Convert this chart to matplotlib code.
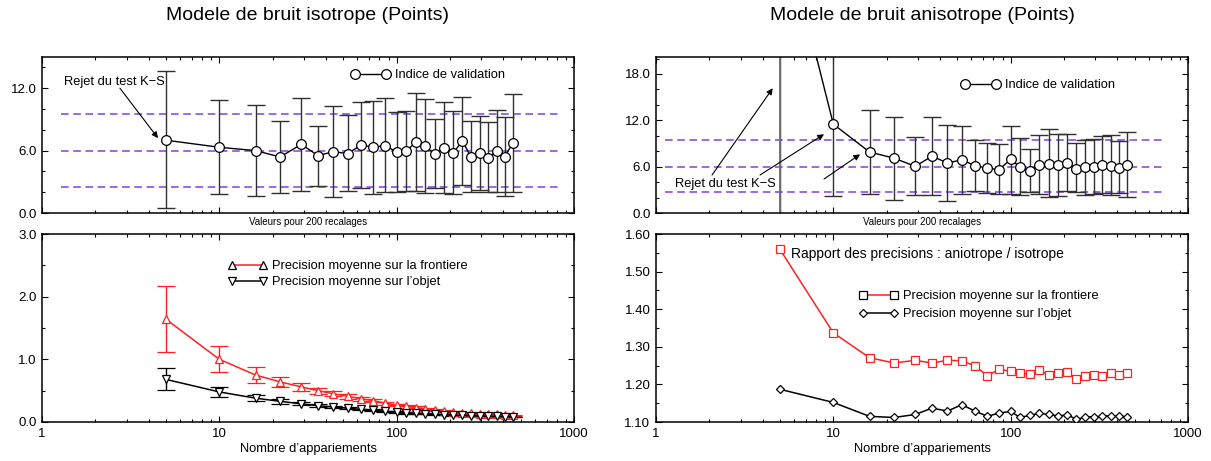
"""
Validation index and precision vs number of matches, isotropic / anisotropic noise.
"""
import matplotlib
matplotlib.use("Agg")
import matplotlib.pyplot as plt
from matplotlib.lines import Line2D
from matplotlib.ticker import (FixedLocator, FuncFormatter, FormatStrFormatter,
                               LogLocator, MultipleLocator, NullFormatter)

plt.rcParams['font.family'] = ['Liberation Sans', 'DejaVu Sans']

# number of matches (shared by every panel)
n_matches = [5, 10, 16, 22, 29, 36, 44, 53, 63, 74, 86, 100, 113, 129, 145,
             164, 186, 209, 235, 262, 294, 328, 368, 406, 453]

# isotropic noise: validation index with its spread
iso_index = [7.0, 6.32, 6.0, 5.39, 6.6, 5.52, 5.9, 5.71, 6.54, 6.32, 6.48, 5.87,
             5.94, 6.86, 6.42, 5.68, 6.26, 5.81, 6.93, 5.39, 5.78, 5.33, 5.94,
             5.43, 6.73]
iso_low = [0.45, 1.79, 1.63, 1.95, 2.14, 2.62, 1.53, 2.07, 2.39, 1.82, 2.01, 2.04,
           2.14, 2.14, 1.95, 2.43, 1.88, 1.82, 2.68, 2.04, 2.2, 1.98, 1.98, 1.66,
           2.04]
iso_high = [13.63, 10.82, 10.4, 8.81, 11.08, 8.39, 10.28, 9.45, 10.72, 10.79, 11.01,
            9.73, 9.8, 11.55, 10.92, 9.03, 10.63, 9.8, 11.2, 8.81, 9.32, 8.71, 9.89,
            9.22, 11.46]
iso_levels = [2.46, 6.0, 9.48]

# isotropic noise: mean precision on the boundary / on the object
iso_front = [1.64, 1.0, 0.75, 0.64, 0.56, 0.50, 0.45, 0.41, 0.37, 0.34, 0.30, 0.27,
             0.25, 0.23, 0.21, 0.19, 0.18, 0.16, 0.15, 0.14, 0.13, 0.125, 0.12,
             0.115, 0.11]
iso_front_err = [0.53, 0.205, 0.12, 0.085, 0.06, 0.05, 0.04, 0.035, 0.03, 0.028,
                 0.025, 0.022, 0.02, 0.018, 0.017, 0.015, 0.014, 0.013, 0.012,
                 0.011, 0.01, 0.01, 0.009, 0.009, 0.008]
iso_obj = [0.68, 0.48, 0.38, 0.33, 0.29, 0.26, 0.24, 0.22, 0.20, 0.19, 0.17, 0.16,
           0.145, 0.14, 0.13, 0.12, 0.115, 0.11, 0.105, 0.10, 0.095, 0.09, 0.088,
           0.085, 0.08]
iso_obj_err = [0.175, 0.075, 0.045, 0.035, 0.025, 0.02, 0.018, 0.016, 0.014, 0.013,
               0.012, 0.011, 0.01, 0.01, 0.009, 0.009, 0.008, 0.008, 0.007, 0.007,
               0.007, 0.006, 0.006, 0.006, 0.005]

# anisotropic noise: validation index with its spread
ani_index = [39.0, 11.5, 7.9, 7.1, 6.04, 7.36, 6.47, 6.89, 6.13, 5.79, 5.62, 6.94,
             5.96, 5.4, 6.26, 6.38, 6.17, 6.51, 5.74, 5.91, 6.0, 6.26, 6.13, 5.83,
             6.21]
ani_low = [-1.0, 2.2, 2.46, 1.7, 2.3, 2.3, 1.49, 2.47, 2.85, 2.55, 2.43, 2.47, 2.3,
           2.68, 2.47, 2.04, 2.26, 2.85, 2.72, 2.34, 2.47, 2.55, 2.38, 2.64, 2.13]
ani_high = [80.0, 30.0, 13.3, 12.45, 9.79, 12.43, 11.4, 11.28, 9.45, 9.1, 8.94, 11.28,
            9.66, 8.3, 10.09, 10.85, 10.21, 10.17, 9.02, 9.45, 9.53, 10.0, 10.04,
            9.28, 10.43]
ani_levels = [2.76, 6.0, 9.45]

# ratio of precisions anisotropic / isotropic
ratio_front = [1.559, 1.337, 1.271, 1.257, 1.264, 1.257, 1.264, 1.263, 1.249, 1.223,
               1.240, 1.235, 1.230, 1.227, 1.237, 1.226, 1.230, 1.234, 1.214, 1.223,
               1.225, 1.222, 1.230, 1.226, 1.229]
ratio_obj = [1.187, 1.152, 1.115, 1.112, 1.120, 1.137, 1.129, 1.146, 1.129, 1.115,
             1.124, 1.128, 1.112, 1.118, 1.123, 1.120, 1.116, 1.119, 1.107, 1.113,
             1.114, 1.115, 1.117, 1.115, 1.114]

RED = '#ff2020'
PURPLE = '#8040e0'
FS_TICK = 9.5
FS_LEG = 9.3

fig = plt.figure(figsize=(12.11, 4.61), dpi=100)
W, H = 1211.0, 461.0


def axes_px(x0, y0, x1, y1):
    return fig.add_axes([x0 / W, 1 - y1 / H, (x1 - x0) / W, (y1 - y0) / H])


ax_tl = axes_px(42, 57, 574, 213)
ax_bl = axes_px(42, 234, 574, 422)
ax_tr = axes_px(656, 57, 1188, 213)
ax_br = axes_px(656, 234, 1188, 422)


def style_axis(ax, show_xlabels):
    ax.set_xscale('log')
    ax.set_xlim(1, 1000)
    ax.xaxis.set_major_locator(FixedLocator([1, 10, 100, 1000]))
    ax.xaxis.set_minor_locator(LogLocator(base=10, subs=range(2, 10)))
    ax.xaxis.set_minor_formatter(NullFormatter())
    if show_xlabels:
        ax.xaxis.set_major_formatter(FuncFormatter(lambda v, p: f'{v:g}'))
    else:
        ax.xaxis.set_major_formatter(NullFormatter())
    ax.tick_params(which='both', direction='in', top=True, right=True,
                   labelsize=FS_TICK, width=0.8, pad=4)
    ax.tick_params(which='major', length=4)
    ax.tick_params(which='minor', length=2.5)
    for sp in ax.spines.values():
        sp.set_linewidth(1.1)


def validation_panel(ax, index, low, high, levels, xspan, ymax, leg_pos):
    style_axis(ax, False)
    ax.set_ylim(0, ymax)
    ax.yaxis.set_major_locator(MultipleLocator(6))
    ax.yaxis.set_minor_locator(MultipleLocator(2))
    ax.yaxis.set_major_formatter(FormatStrFormatter('%.1f'))
    ax.hlines(levels, xspan[0], xspan[1], colors=PURPLE, linestyles=(0, (5, 3)),
              lw=1.1, zorder=1)
    yerr = [[v - l for v, l in zip(index, low)], [h - v for v, h in zip(index, high)]]
    ax.errorbar(n_matches, index, yerr=yerr, fmt='none', ecolor='#303030',
                elinewidth=1.0, capsize=6.5, capthick=1.0, zorder=2)
    ax.plot(n_matches, index, color='black', lw=1.0, marker='o', ms=7,
            mfc='white', mec='black', mew=0.9, zorder=3)
    handle = Line2D([], [], color='black', lw=1.0, marker='o', ms=7,
                    mfc='white', mec='black', mew=0.9)
    ax.legend([handle], ['Indice de validation'], loc='center left',
              bbox_to_anchor=leg_pos, frameon=False, numpoints=2, handlelength=3.0,
              handletextpad=0.4, borderpad=0, borderaxespad=0, fontsize=FS_LEG)
    ax.text(0.5, -0.058, 'Valeurs pour 200 recalages', transform=ax.transAxes,
            ha='center', va='center', fontsize=7)


# --- top left: isotropic validation index
validation_panel(ax_tl, iso_index, iso_low, iso_high, iso_levels, (1.28, 846),
                 15, (0.581, 0.882))
ax_tl.text(1.33, 12.6, 'Rejet du test K\u2212S', fontsize=FS_LEG, ha='left',
           va='center')
ax_tl.annotate('', xy=(4.51, 7.2), xytext=(2.75, 12.0),
               arrowprops=dict(arrowstyle='-|>', color='black', lw=0.8,
                               shrinkA=0, shrinkB=0, mutation_scale=9))

# --- top right: anisotropic validation index
validation_panel(ax_tr, ani_index, ani_low, ani_high, ani_levels, (1.13, 748),
                 20.2, (0.574, 0.818))
# the first error bar is drawn lighter in the reference
ax_tr.errorbar(n_matches[:1], ani_index[:1],
               yerr=[[ani_index[0] - ani_low[0]], [ani_high[0] - ani_index[0]]],
               fmt='none', ecolor='#707070', elinewidth=1.3, capsize=0, zorder=2.5)
ax_tr.yaxis.set_major_locator(FixedLocator([0, 6, 12, 18]))
ax_tr.text(1.28, 3.75, 'Rejet du test K\u2212S', fontsize=FS_LEG, ha='left',
           va='center')
for tail, head in [((2.07, 4.92), (4.55, 16.15)),
                   ((3.86, 4.92), (8.86, 10.2)),
                   ((8.86, 4.4), (14.15, 7.6))]:
    ax_tr.annotate('', xy=head, xytext=tail,
                   arrowprops=dict(arrowstyle='-|>', color='black', lw=0.8,
                                   shrinkA=0, shrinkB=0, mutation_scale=9))

# --- bottom left: mean precisions, isotropic noise
style_axis(ax_bl, True)
ax_bl.set_ylim(0, 3.0)
ax_bl.yaxis.set_major_locator(MultipleLocator(1.0))
ax_bl.yaxis.set_minor_locator(MultipleLocator(0.5))
ax_bl.yaxis.set_major_formatter(FormatStrFormatter('%.1f'))
ax_bl.errorbar(n_matches, iso_front, yerr=iso_front_err, color=RED, lw=1.1,
               marker='^', ms=6, mfc='white', mec=RED, mew=0.9,
               ecolor=RED, elinewidth=1.0, capsize=6.5, capthick=1.0, zorder=3)
ax_bl.errorbar(n_matches, iso_obj, yerr=iso_obj_err, color='black', lw=1.1,
               marker='v', ms=6, mfc='white', mec='black', mew=0.9,
               ecolor='black', elinewidth=1.0, capsize=6.5, capthick=1.0, zorder=3)
h_front = Line2D([], [], color=RED, lw=1.1, marker='^', ms=6, mfc='white',
                 mec='black', mew=0.9)
h_obj = Line2D([], [], color='black', lw=1.1, marker='v', ms=6, mfc='white',
               mec='black', mew=0.9)
ax_bl.legend([h_front, h_obj],
             ['Precision moyenne sur la frontiere', "Precision moyenne sur l\u2019objet"],
             loc='center left', bbox_to_anchor=(0.35, 0.786), frameon=False,
             numpoints=2, handlelength=3.0, handletextpad=0.4, borderpad=0,
             borderaxespad=0, labelspacing=0.3, fontsize=FS_LEG)
ax_bl.text(0.5, -0.144, "Nombre d\u2019appariements", transform=ax_bl.transAxes,
           ha='center', va='center', fontsize=FS_LEG)

# --- bottom right: precision ratio anisotropic / isotropic
style_axis(ax_br, True)
ax_br.set_ylim(1.10, 1.60)
ax_br.yaxis.set_major_locator(MultipleLocator(0.1))
ax_br.yaxis.set_minor_locator(MultipleLocator(0.05))
ax_br.yaxis.set_major_formatter(FormatStrFormatter('%.2f'))
ax_br.plot(n_matches, ratio_front, color=RED, lw=1.1, marker='s', ms=5.5,
           mfc='white', mec=RED, mew=0.9, zorder=3)
ax_br.plot(n_matches, ratio_obj, color='black', lw=1.1, marker='D', ms=4.5,
           mfc='white', mec='black', mew=0.9, zorder=3)
h_sq = Line2D([], [], color=RED, lw=1.1, marker='s', ms=5.5, mfc='white',
              mec='black', mew=0.9)
h_di = Line2D([], [], color='black', lw=1.1, marker='D', ms=4.5, mfc='white',
              mec='black', mew=0.9)
ax_br.legend([h_sq, h_di],
             ['Precision moyenne sur la frontiere', "Precision moyenne sur l\u2019objet"],
             loc='center left', bbox_to_anchor=(0.382, 0.621), frameon=False,
             numpoints=2, handlelength=3.0, handletextpad=0.4, borderpad=0,
             borderaxespad=0, labelspacing=0.45, fontsize=FS_LEG)
ax_br.text(0.253, 0.891, 'Rapport des precisions : aniotrope / isotrope',
           transform=ax_br.transAxes, ha='left', va='center', fontsize=10)
ax_br.text(0.5, -0.144, "Nombre d\u2019appariements", transform=ax_br.transAxes,
           ha='center', va='center', fontsize=FS_LEG)

# panel titles
fig.text(308 / W, 1 - 16 / H, 'Modele de bruit isotrope (Points)', ha='center',
         va='center', fontsize=14)
fig.text(922 / W, 1 - 16 / H, 'Modele de bruit anisotrope (Points)', ha='center',
         va='center', fontsize=14)

fig.savefig('out.png', dpi=100)
